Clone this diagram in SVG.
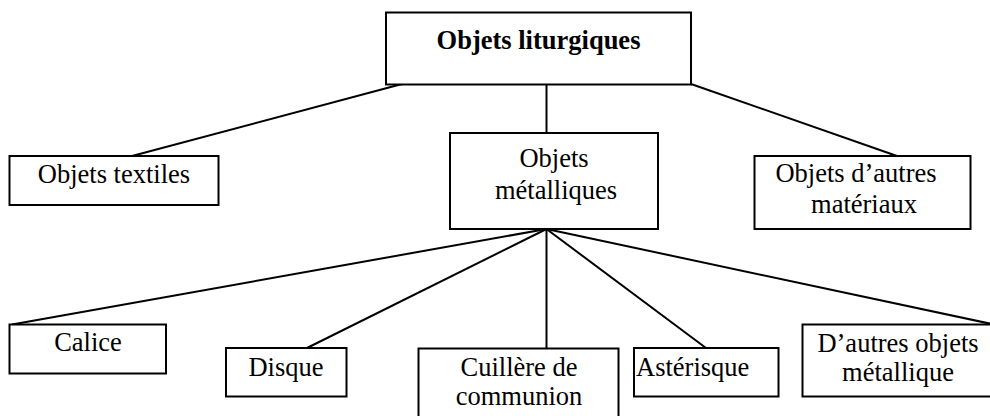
<svg xmlns="http://www.w3.org/2000/svg" width="990" height="416" viewBox="0 0 990 416">
<style>
.box{fill:#fff;stroke:#000;stroke-width:2}
.ln{stroke:#000;stroke-width:2;fill:none}
text{font-family:"Liberation Serif","Times New Roman",serif;font-size:26.5px;fill:#000;text-anchor:middle}
.b{font-weight:bold}
</style>
<rect x="0" y="0" width="990" height="416" fill="#fff"/>
<g id="connectors">
<line class="ln" x1="402" y1="84" x2="132" y2="156"/>
<line class="ln" x1="546.5" y1="84" x2="546.5" y2="133"/>
<line class="ln" x1="691" y1="84" x2="897" y2="156"/>
<line class="ln" x1="546.5" y1="229" x2="12" y2="324.5"/>
<line class="ln" x1="546.5" y1="229" x2="307" y2="348"/>
<line class="ln" x1="546.5" y1="229" x2="546.5" y2="348.5"/>
<line class="ln" x1="546.5" y1="229" x2="706" y2="348"/>
<line class="ln" x1="546.5" y1="229" x2="994" y2="324.5"/>
</g>
<g id="n-liturgiques">
<rect class="box" x="386" y="12.5" width="305" height="72"/>
<text class="b" x="538.5" y="48.5">Objets liturgiques</text>
</g>
<g id="n-textiles">
<rect class="box" x="9.5" y="156" width="209" height="49"/>
<text x="114" y="183">Objets textiles</text>
</g>
<g id="n-metalliques">
<rect class="box" x="450" y="133" width="208" height="96"/>
<text x="554" y="167">Objets</text>
<text x="556" y="199">métalliques</text>
</g>
<g id="n-autres-materiaux">
<rect class="box" x="754.5" y="156" width="216" height="73"/>
<text x="856" y="182">Objets d’autres</text>
<text x="864" y="213">matériaux</text>
</g>
<g id="n-calice">
<rect class="box" x="9.5" y="324.5" width="156.5" height="49"/>
<text x="88" y="351">Calice</text>
</g>
<g id="n-disque">
<rect class="box" x="226" y="348" width="120.5" height="48.5"/>
<text x="286" y="375.5">Disque</text>
</g>
<g id="n-cuillere">
<rect class="box" x="418.5" y="348.5" width="200" height="80"/>
<text x="519" y="375.5">Cuillère de</text>
<text x="519" y="405">communion</text>
</g>
<g id="n-asterisque">
<rect class="box" x="634" y="348" width="144.5" height="48.5"/>
<text x="636" y="375.5" style="text-anchor:start">Astérisque</text>
</g>
<g id="n-autres-objets">
<rect class="box" x="802.5" y="324.5" width="191" height="72"/>
<text x="898" y="351.5">D’autres objets</text>
<text x="898" y="380.5">métallique</text>
</g>
</svg>
